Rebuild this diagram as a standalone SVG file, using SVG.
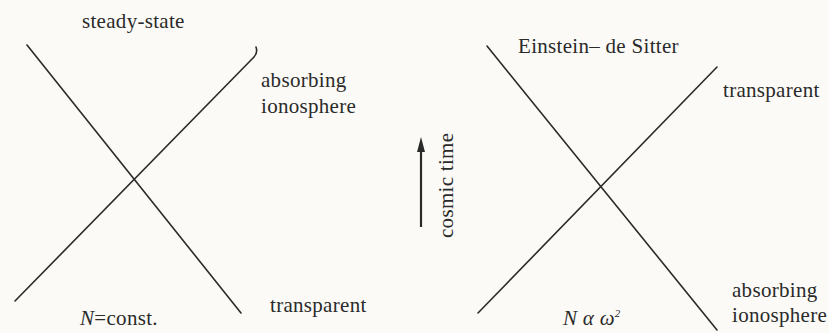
<svg xmlns="http://www.w3.org/2000/svg" width="829" height="333" viewBox="0 0 829 333">
<defs>
<style>
.t{font-family:"Liberation Serif","Times New Roman",serif;font-size:21px;fill:#2a2a2a;letter-spacing:0.3px}
.l{stroke:#2a2a2a;stroke-width:1.6;fill:none;stroke-linecap:round}
</style>
</defs>
<rect width="829" height="333" fill="#fbfaf6"/>
<g id="connectors">
<path class="l" d="M27,45 L241,313"/>
<path class="l" d="M15,301 L254,57 Q258,53 256,47"/>
<path class="l" d="M487,46 L717,330"/>
<path class="l" d="M478,313 L717,67"/>
<path d="M421,227 L421,150" stroke="#2a2a2a" stroke-width="2.2" fill="none"/>
<path d="M417,152 L421,137 L425,152 Z" fill="#2a2a2a"/>
</g>
<g id="steady-state"><text class="t" x="82" y="28">steady-state</text></g>
<g id="left-absorbing"><text class="t" x="261" y="87">absorbing</text><text class="t" x="261" y="113">ionosphere</text></g>
<g id="left-const"><text class="t" x="80" y="325"><tspan font-style="italic">N</tspan>=const.</text></g>
<g id="left-transparent"><text class="t" x="270" y="312">transparent</text></g>
<g id="cosmic-time"><text class="t" transform="translate(453,238) rotate(-90)">cosmic time</text></g>
<g id="eds"><text class="t" x="518" y="53" letter-spacing="0">Einstein– de Sitter</text></g>
<g id="right-transparent"><text class="t" x="723" y="97">transparent</text></g>
<g id="right-n"><text class="t" x="563" y="325" font-style="italic">N α ω<tspan font-size="11" dy="-8">2</tspan></text></g>
<g id="right-absorbing"><text class="t" x="732" y="297">absorbing</text><text class="t" x="732" y="322">ionosphere</text></g>
</svg>
